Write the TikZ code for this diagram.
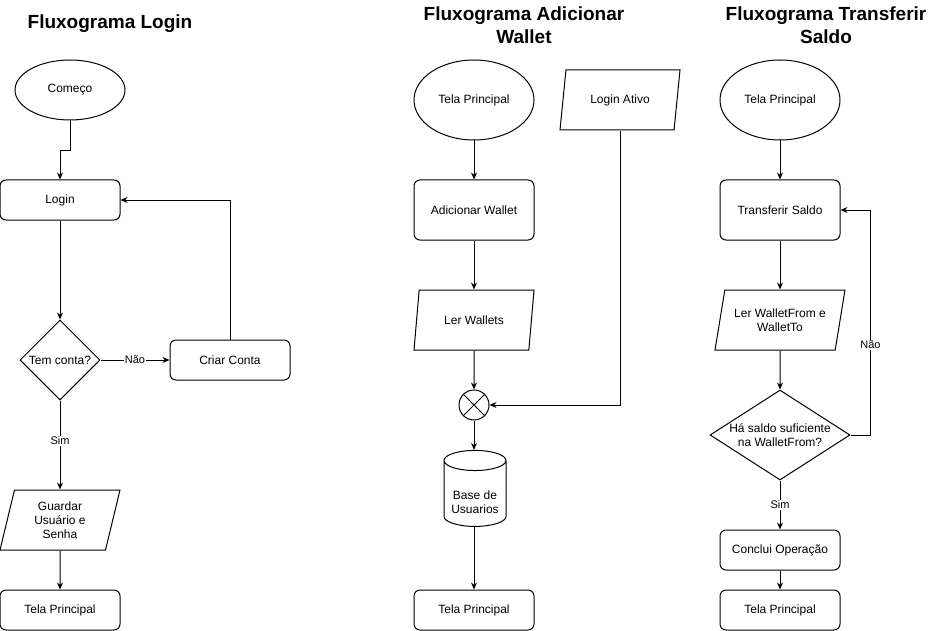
\documentclass[tikz,border=0pt]{standalone}
\usepackage{fontspec}
\setmainfont{Liberation Sans}
\usetikzlibrary{shapes.geometric,arrows.meta}

\tikzset{
    base/.style={draw, line width=1pt, font=\fontsize{12}{14}\selectfont, align=center},
    term/.style={base, ellipse, minimum width=120, minimum height=80, inner sep=0},
    start/.style={base, ellipse, minimum width=110, minimum height=60, inner sep=0},
    proc/.style={base, rectangle, rounded corners=6, minimum width=120, minimum height=40},
    procbig/.style={proc, minimum height=60},
    io/.style={base, trapezium, trapezium left angle=71.57, trapezium right angle=108.43,
        trapezium stretches body, minimum width=120, minimum height=60, inner xsep=2},
    decision/.style={base, diamond, inner sep=0},
    junction/.style={base, circle, minimum size=30, inner sep=0},
    store/.style={base, cylinder, shape border rotate=90, inner sep=15, aspect=0.67,
        minimum width=62, minimum height=76},
    title/.style={font=\fontsize{19}{23}\selectfont\bfseries, align=center},
    lbl/.style={font=\fontsize{11}{13}\selectfont, fill=white, inner sep=1},
    arr/.style={line width=1pt, -{Stealth[length=7pt, width=6pt]}},
}

\begin{document}
\begin{tikzpicture}[x=1pt, y=-1pt]
    \useasboundingbox (0, 0) rectangle (936, 631);
    \node[title] (Title-login) at (110, 24) {Fluxograma Login};
    \node[title] (Title-wallet) at (524, 25) {Fluxograma Adicionar\\Wallet};
    \node[title] (Title-saldo) at (826, 25) {Fluxograma Transferir\\Saldo};

    % Login
    \node[start] (Comeco) at (70, 90) {Começo};
    \node[proc] (Login) at (60, 200) {Login};
    \node[decision, minimum size=80] (Conta) at (60, 360) {Tem conta?};
    \node[proc] (Criar) at (230, 360) {Criar Conta};
    \node[io] (Guardar) at (60, 520) {Guardar\\Usuário e\\Senha};
    \node[proc] (Tela-1) at (60, 610) {Tela Principal};

    \draw[arr] (Comeco.south) -- ++(0, 30) -| (Login.north);
    \draw[arr] (Login) -- (Conta);
    \draw[arr] (Conta) -- node[lbl] {Não} (Criar);
    \draw[arr] (Criar.north) |- (Login.east);
    \draw[arr] (Conta) -- node[lbl, pos=0.45] {Sim} (Guardar);
    \draw[arr] (Guardar) -- (Tela-1);

    % Adicionar Wallet
    \node[term] (Tela-2) at (474, 100) {Tela Principal};
    \node[io] (Ativo) at (620, 100) {Login Ativo};
    \node[procbig] (Adicionar) at (474, 210) {Adicionar Wallet};
    \node[io] (Ler) at (474, 320) {Ler Wallets};
    \node[junction] (Juncao) at (474, 405) {};
    \draw[line width=1pt] (Juncao.45) -- (Juncao.225) (Juncao.135) -- (Juncao.-45);
    \node[store, label={[base, draw=none, yshift=-4]center:Base de\\Usuarios}] (Base) at (475, 498) {};
    \node[proc] (Tela-3) at (474, 610) {Tela Principal};

    \draw[arr] (Tela-2) -- (Adicionar);
    \draw[arr] (Adicionar) -- (Ler);
    \draw[arr] (Ler) -- (Juncao);
    \draw[arr] (Ativo.south) |- (Juncao.east);
    \draw[arr] (Juncao) -- (Juncao |- Base.north);
    \draw[arr] (Base.south -| Tela-3) -- (Tela-3);

    % Transferir Saldo
    \node[term] (Tela-4) at (780, 100) {Tela Principal};
    \node[procbig] (Transferir) at (780, 210) {Transferir Saldo};
    \node[io, minimum width=130] (Ler-from) at (780, 320) {Ler WalletFrom e\\WalletTo};
    \node[decision, minimum width=140, minimum height=90,
        label={[base, draw=none]center:Há saldo suficiente\\na WalletFrom?}] (Saldo) at (780, 435) {};
    \node[proc] (Conclui) at (780, 550) {Conclui Operação};
    \node[proc] (Tela-5) at (780, 610) {Tela Principal};

    \draw[arr] (Tela-4) -- (Transferir);
    \draw[arr] (Transferir) -- (Ler-from);
    \draw[arr] (Ler-from) -- (Saldo);
    \draw[arr] (Saldo.east) -- ++(20, 0) |- node[lbl, pos=0.2] {Não} (Transferir.east);
    \draw[arr] (Saldo) -- node[lbl] {Sim} (Conclui);
    \draw[arr] (Conclui) -- (Tela-5);
\end{tikzpicture}
\end{document}
